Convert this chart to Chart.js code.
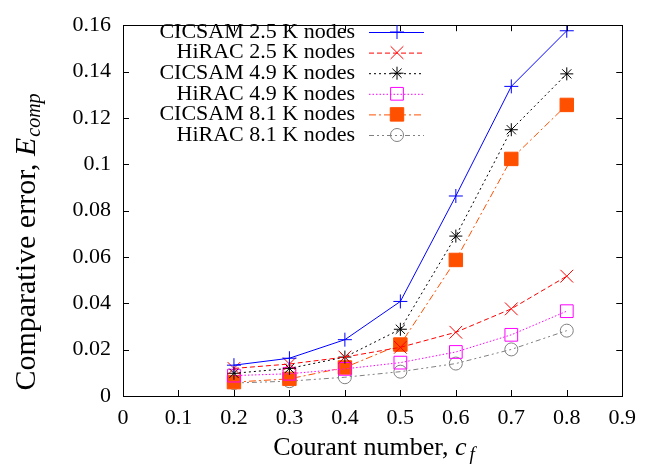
<!DOCTYPE html>
<html>
<head>
<meta charset="utf-8">
<script src="https://cdn.jsdelivr.net/npm/chart.js@4/dist/chart.umd.min.js"></script>
<style>
  html, body { margin: 0; padding: 0; background: #fff; }
  #wrap { width: 645px; height: 465px; position: relative; }
</style>
</head>
<body>
<div id="wrap"><canvas id="c" width="645" height="465"></canvas></div>
<script>
// ---- data ----
const courant = [0.2, 0.3, 0.4, 0.5, 0.6, 0.7, 0.8];
const seriesNames = [
  "CICSAM 2.5 K nodes", "HiRAC 2.5 K nodes",
  "CICSAM 4.9 K nodes", "HiRAC 4.9 K nodes",
  "CICSAM 8.1 K nodes", "HiRAC 8.1 K nodes"
];
const cicsam25 = [0.0133, 0.0163, 0.0243, 0.0408, 0.0863, 0.1336, 0.1576];
const hirac25  = [0.0119, 0.0138, 0.0168, 0.0210, 0.0275, 0.0376, 0.0517];
const cicsam49 = [0.0098, 0.0119, 0.0168, 0.0288, 0.0690, 0.1149, 0.1390];
const hirac49  = [0.0088, 0.0096, 0.0117, 0.0144, 0.0190, 0.0264, 0.0366];
const cicsam81 = [0.0060, 0.0074, 0.0123, 0.0222, 0.0587, 0.1023, 0.1256];
const hirac81  = [0.0056, 0.0064, 0.0081, 0.0105, 0.0140, 0.0201, 0.0282];
const xTicks = [0, 0.1, 0.2, 0.3, 0.4, 0.5, 0.6, 0.7, 0.8, 0.9];
const yTicks = [0, 0.02, 0.04, 0.06, 0.08, 0.1, 0.12, 0.14, 0.16];

const FONT = "'Liberation Serif', 'Times New Roman', serif";

function pts(ys) { return courant.map((x, i) => ({ x: x, y: ys[i] })); }

const styles = [
  { color: '#0000ff', dash: [], point: 'cross', r: 7, fill: false },
  { color: '#ff0000', dash: [5, 3], point: 'crossRot', r: 9, fill: false },
  { color: '#000000', dash: [2, 3], point: 'star', r: 6.5, fill: false },
  { color: '#ff00ff', dash: [1.5, 2], point: 'rect', r: 9, fill: false },
  { color: '#ff5000', dash: [7, 3, 2, 3], point: 'rect', r: 9.5, fill: true },
  { color: '#808080', dash: [5, 3, 2, 3, 2, 3], point: 'circle', r: 6.5, fill: false }
];
const allValues = [cicsam25, hirac25, cicsam49, hirac49, cicsam81, hirac81];

const datasets = allValues.map((vals, i) => ({
  label: seriesNames[i],
  data: pts(vals),
  borderColor: styles[i].color,
  borderWidth: 1,
  borderDash: styles[i].dash,
  pointStyle: styles[i].point,
  pointRadius: styles[i].r,
  pointHoverRadius: styles[i].r,
  pointBorderColor: styles[i].color,
  pointBorderWidth: 1,
  pointBackgroundColor: styles[i].fill ? styles[i].color : 'rgba(0,0,0,0)',
  fill: false,
  tension: 0
}));

function fmt(v) { return String(parseFloat(Number(v).toFixed(2))); }

const framePlugin = {
  id: 'frame',
  afterDatasetsDraw(chart) {
    const ctx = chart.ctx;
    const a = chart.chartArea;
    const xs = chart.scales.x, ys = chart.scales.y;
    ctx.save();
    ctx.strokeStyle = '#000';
    ctx.lineWidth = 1;
    ctx.setLineDash([]);
    ctx.strokeRect(Math.round(a.left) + 0.5, Math.round(a.top) + 0.5,
                   Math.round(a.right - a.left), Math.round(a.bottom - a.top));
    const tl = 6;
    ctx.beginPath();
    xTicks.forEach(v => {
      const px = Math.round(xs.getPixelForValue(v)) + 0.5;
      if (v === xTicks[0] || v === xTicks[xTicks.length - 1]) return;
      ctx.moveTo(px, a.bottom); ctx.lineTo(px, a.bottom - tl);
      ctx.moveTo(px, a.top); ctx.lineTo(px, a.top + tl);
    });
    yTicks.forEach(v => {
      const py = Math.round(ys.getPixelForValue(v)) + 0.5;
      if (v === yTicks[0] || v === yTicks[yTicks.length - 1]) return;
      ctx.moveTo(a.left, py); ctx.lineTo(a.left + tl, py);
      ctx.moveTo(a.right, py); ctx.lineTo(a.right - tl, py);
    });
    ctx.stroke();
    ctx.restore();
  },
  afterDraw(chart) {
    const ctx = chart.ctx;
    ctx.save();
    ctx.fillStyle = '#000';
    // legend
    const lx = 355, l0 = 369, l1 = 424, mx = 397;
    chart.data.datasets.forEach((ds, i) => {
      const y = 32 + i * 20.6;
      ctx.font = '22px ' + FONT;
      ctx.textAlign = 'right';
      ctx.textBaseline = 'middle';
      ctx.fillStyle = '#000';
      ctx.fillText(ds.label, lx, y);
      ctx.strokeStyle = ds.borderColor;
      ctx.lineWidth = 1;
      ctx.setLineDash(ds.borderDash);
      ctx.beginPath();
      ctx.moveTo(l0, y + 0.5); ctx.lineTo(l1, y + 0.5);
      ctx.stroke();
      ctx.setLineDash([]);
      const opts = {
        pointStyle: ds.pointStyle, radius: ds.pointRadius, rotation: 0,
        borderWidth: 1
      };
      ctx.strokeStyle = ds.pointBorderColor;
      ctx.fillStyle = ds.pointBackgroundColor;
      Chart.helpers.drawPoint(ctx, opts, mx, y);
    });
    // x title
    ctx.fillStyle = '#000';
    ctx.textBaseline = 'alphabetic';
    ctx.textAlign = 'left';
    const p1 = 'Courant number, ';
    ctx.font = '26px ' + FONT;
    const w1 = ctx.measureText(p1).width;
    ctx.font = 'italic 26px ' + FONT;
    const w2 = ctx.measureText('c').width;
    ctx.font = 'italic 19px ' + FONT;
    const w3 = ctx.measureText('f').width;
    const xs0 = 374 - (w1 + w2 + w3 + 3) / 2;
    const base = 455;
    ctx.font = '26px ' + FONT; ctx.fillText(p1, xs0, base);
    ctx.font = 'italic 26px ' + FONT; ctx.fillText('c', xs0 + w1, base);
    ctx.font = 'italic 19px ' + FONT; ctx.fillText('f', xs0 + w1 + w2 + 3, base + 5);
    // y title
    ctx.translate(35, 242);
    ctx.rotate(-Math.PI / 2);
    const q1 = 'Comparative error, ';
    ctx.font = '30px ' + FONT;
    const v1 = ctx.measureText(q1).width;
    ctx.font = 'italic 30px ' + FONT;
    const v2 = ctx.measureText('E').width;
    ctx.font = 'italic 20px ' + FONT;
    const v3 = ctx.measureText('comp').width;
    const s0 = -(v1 + v2 + v3 + 1) / 2;
    ctx.font = '30px ' + FONT; ctx.fillText(q1, s0, 0);
    ctx.font = 'italic 30px ' + FONT; ctx.fillText('E', s0 + v1, 0);
    ctx.font = 'italic 20px ' + FONT; ctx.fillText('comp', s0 + v1 + v2 + 1, 5);
    ctx.restore();
  }
};

new Chart(document.getElementById('c'), {
  type: 'line',
  data: { datasets: datasets },
  options: {
    responsive: false,
    animation: false,
    events: [],
    layout: { padding: { left: 0, top: 16, right: 19, bottom: 0 } },
    plugins: { legend: { display: false }, tooltip: { enabled: false } },
    scales: {
      x: {
        type: 'linear', min: 0, max: 0.9,
        afterBuildTicks: s => { s.ticks = xTicks.map(v => ({ value: v })); },
        afterFit: s => { s.height = 69; },
        grid: { display: false, drawTicks: false },
        border: { display: false },
        ticks: { color: '#000', font: { family: FONT, size: 22 }, padding: 9, callback: v => fmt(v), maxRotation: 0, autoSkip: false }
      },
      y: {
        type: 'linear', min: 0, max: 0.16,
        afterBuildTicks: s => { s.ticks = yTicks.map(v => ({ value: v })); },
        afterFit: s => { s.width = 123; },
        grid: { display: false, drawTicks: false },
        border: { display: false },
        ticks: { color: '#000', font: { family: FONT, size: 22 }, padding: 12, callback: v => fmt(v), autoSkip: false }
      }
    }
  },
  plugins: [framePlugin]
});
</script>
</body>
</html>
